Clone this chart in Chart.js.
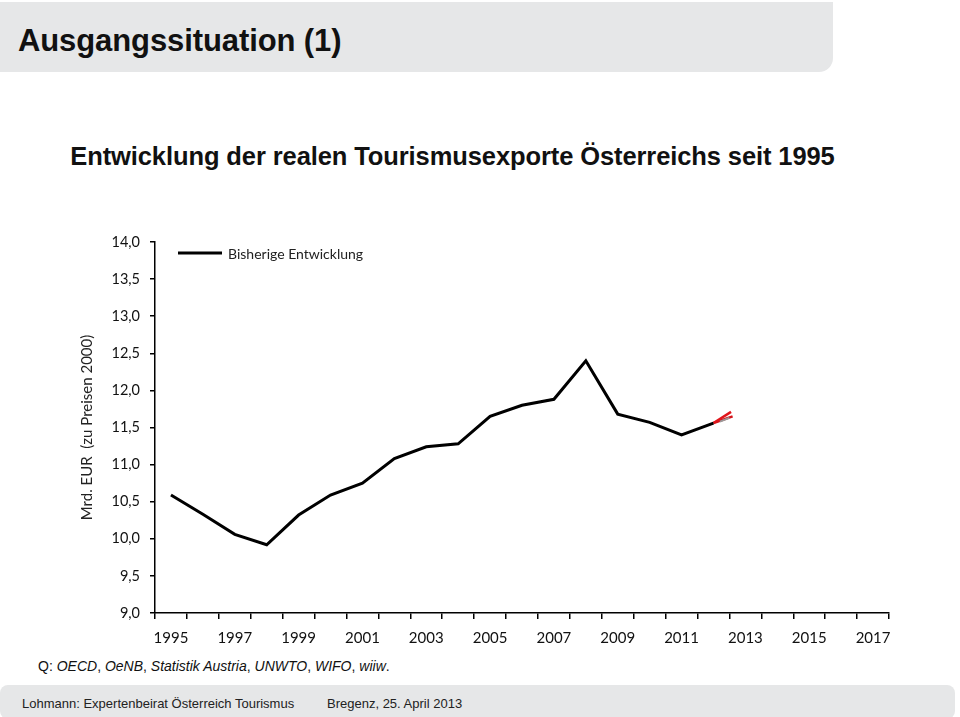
<!DOCTYPE html>
<html>
<head>
<meta charset="utf-8">
<script src="https://cdn.jsdelivr.net/npm/chart.js@4/dist/chart.umd.min.js"></script>
<style>
  body { margin: 0; background: #fff; width: 960px; height: 717px; position: relative; overflow: hidden; font-family: "Liberation Sans", Arial, sans-serif; }
  #banner { position: absolute; left: 0; top: 2px; width: 833px; height: 70px; background: #e6e7e8; border-bottom-right-radius: 14px; }
  #banner h1 { position: absolute; left: 18px; top: 21px; margin: 0; font: bold 31px "Liberation Sans", sans-serif; letter-spacing: -0.1px; color: #111; }
  #subtitle { position: absolute; left: 0; width: 905px; top: 142px; text-align: center; font: bold 25.5px "Liberation Sans", sans-serif; letter-spacing: -0.1px; color: #111; }
  #source { position: absolute; left: 38px; top: 658px; font-size: 14px; color: #111; }
  #footer { position: absolute; left: 0; top: 685px; width: 955px; height: 34px; background: #e6e7e8; border-radius: 8px; font-size: 13px; color: #222; }
  #footer span { position: absolute; top: 11px; }
  canvas { position: absolute; left: 0; top: 0; }
</style>
</head>
<body>
<div id="banner"><h1>Ausgangssituation (1)</h1></div>
<div id="subtitle">Entwicklung der realen Tourismusexporte Österreichs seit 1995</div>
<div id="source">Q: <i>OECD</i>, <i>OeNB</i>, <i>Statistik Austria</i>, <i>UNWTO</i>, <i>WIFO</i>, <i>wiiw</i>.</div>
<div id="footer"><span style="left:22px">Lohmann: Expertenbeirat Österreich Tourismus</span><span style="left:327px">Bregenz, 25. April 2013</span></div>
<canvas id="chart" width="960" height="717"></canvas>
<script>
// Jahre (Kategorien) und reale Tourismusexporte in Mrd. EUR
const jahre = ['1995', '1996', '1997', '1998', '1999', '2000', '2001', '2002', '2003', '2004', '2005',
  '2006', '2007', '2008', '2009', '2010', '2011', '2012', '2013', '2014', '2015', '2016', '2017'];
const bisher = [10.59, 10.33, 10.06, 9.92, 10.32, 10.59, 10.75, 11.08, 11.24, 11.28, 11.65,
  11.80, 11.88, 12.40, 11.68, 11.57, 11.40, 11.56];
// kurze Prognose-Ansätze (rot / grau) ab 2012
const prognoseA = [{x: 2012, y: 11.56}, {x: 2012.55, y: 11.71}];
const prognoseB = [{x: 2012, y: 11.56}, {x: 2012.6, y: 11.65}];
const prognoseC = [{x: 2012.2, y: 11.58}, {x: 2012.5, y: 11.63}];

const yTicks = {min: 9, max: 14, step: 0.5};

// Legende innerhalb der Zeichenfläche, oben links
const innenLegende = {
  id: 'innenLegende',
  afterDraw(c) {
    const ds = c.data.datasets[0];
    const a = c.chartArea;
    const g = c.ctx;
    const x = a.left + 23, y = a.top + 11;
    g.save();
    g.strokeStyle = ds.borderColor;
    g.lineWidth = ds.borderWidth;
    g.beginPath();
    g.moveTo(x, y);
    g.lineTo(x + 44, y);
    g.stroke();
    g.fillStyle = '#222';
    g.font = '14px Lato';
    g.textBaseline = 'middle';
    g.fillText(ds.label, x + 50, y + 1);
    g.restore();
  }
};

const ctx = document.getElementById('chart').getContext('2d');
const chart = new Chart(ctx, {
  type: 'line',
  data: {
    labels: jahre,
    datasets: [{
      label: 'Bisherige Entwicklung',
      data: bisher,
      borderColor: '#000',
      borderWidth: 3,
      pointRadius: 0,
      tension: 0
    }, {
      label: 'Prognose grau',
      data: prognoseC,
      xAxisID: 'x2',
      borderColor: '#9a9a9a',
      borderWidth: 2,
      pointRadius: 0
    }, {
      label: 'Prognose 1',
      data: prognoseA,
      xAxisID: 'x2',
      borderColor: '#e0151b',
      borderWidth: 2.5,
      pointRadius: 0
    }, {
      label: 'Prognose 2',
      data: prognoseB,
      xAxisID: 'x2',
      borderColor: '#d4141a',
      borderWidth: 2.5,
      pointRadius: 0
    }]
  },
  options: {
    responsive: false,
    animation: false,
    layout: { padding: { left: 60, right: 71, top: 242, bottom: 52 } },
    plugins: {
      tooltip: { enabled: false },
      legend: { display: false }
    },
    scales: {
      x: {
        type: 'category',
        offset: true,
        grid: { offset: true, drawOnChartArea: false, drawTicks: true, tickLength: 6, color: '#000', lineWidth: 1.5 },
        border: { color: '#000', width: 1.5 },
        ticks: {
          autoSkip: false,
          maxRotation: 0,
          color: '#111',
          padding: 10,
          font: { family: 'Lato', size: 15 },
          callback: function (v, i) { return i % 2 === 0 ? this.getLabelForValue(v) : ''; }
        },
        afterFit: s => { s.height = 52; }
      },
      x2: {
        type: 'linear',
        display: false,
        min: 1994.5,
        max: 2017.5
      },
      y: {
        min: yTicks.min,
        max: yTicks.max,
        grid: { drawOnChartArea: false, drawTicks: true, tickLength: 5, color: '#000', lineWidth: 1.5 },
        border: { color: '#000', width: 1.5 },
        ticks: {
          stepSize: yTicks.step,
          color: '#111',
          padding: 10,
          font: { family: 'Lato', size: 14.5 },
          callback: v => v.toFixed(1).replace('.', ',')
        },
        title: {
          display: true,
          text: 'Mrd. EUR  (zu Preisen 2000)',
          color: '#222',
          font: { family: 'Lato', size: 15 },
          padding: { top: 18, bottom: 0 }
        },
        afterFit: s => { s.width = 95; }
      }
    }
  },
  plugins: [innenLegende]
});
</script>
</body>
</html>
